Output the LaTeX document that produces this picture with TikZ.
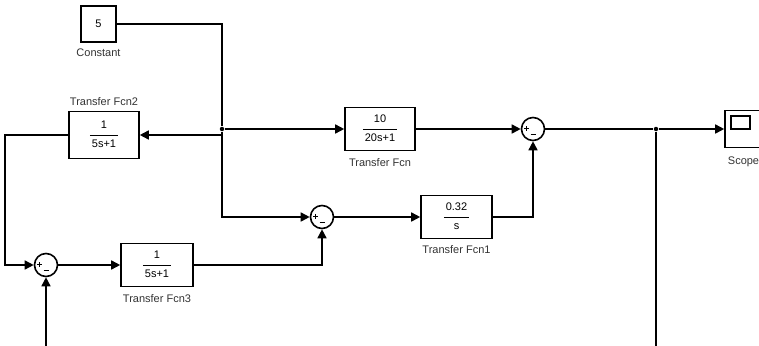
\documentclass[tikz,border=0pt]{standalone}
\usepackage{fontspec}
\setmainfont{Liberation Sans}
\usetikzlibrary{arrows.meta,positioning}
\setlength{\arrayrulewidth}{0.9pt}
\newcommand{\tfn}[2]{\begin{tabular}{@{\hspace{2pt}}c@{\hspace{2pt}}}#1\\[2.5pt]\hline\noalign{\vskip 2.5pt}#2\end{tabular}}

\begin{document}
\begin{tikzpicture}[x=1pt, y=-1pt, line width=1.6pt,
    >={Triangle[length=9pt,width=9pt]},
    blk/.style={draw, minimum width=71pt, minimum height=43pt, inner sep=0pt,
                font=\fontsize{11}{13}\selectfont},
    sumblk/.style={circle, draw, minimum size=23pt, inner sep=0pt,
      path picture={
        \draw[line width=1pt]
          ([shift={(-9pt,0.5pt)}]path picture bounding box.center) -- ++(5pt,0pt)
          ([shift={(-6.5pt,3pt)}]path picture bounding box.center) -- ++(0pt,-5pt)
          ([shift={(-2.5pt,-5pt)}]path picture bounding box.center) -- ++(5pt,0pt);}},
    lbl/.style={inner sep=0pt, text height=8pt, text depth=0pt,
                font=\fontsize{11}{13}\selectfont, text=black!80},
    jdot/.style={circle, fill, inner sep=0pt, minimum size=4.5pt}]

    \useasboundingbox (0,0) rectangle (759,345);
    \clip (0,0) rectangle (759,345);

    % ── Blocks ───────────────────────────────────────────────────────────────
    \node[blk, minimum width=35pt, minimum height=36pt] (const) at (98.5,24) {5};
    \node[lbl, below=5pt of const] (constlbl) {Constant};

    \node[blk, minimum width=70pt, minimum height=47pt] (tf2) at (104,135) {\tfn{1}{5s+1}};
    \node[lbl, above=4pt of tf2] (tf2lbl) {Transfer Fcn2};

    \node[blk, minimum width=70pt] (tf) at (380,129) {\tfn{10}{20s+1}};
    \node[lbl, below=6pt of tf] (tflbl) {Transfer Fcn};

    \node[blk] (tf1) at (456.5,217) {\tfn{0.32}{s}};
    \node[lbl, below=5pt of tf1] (tf1lbl) {Transfer Fcn1};

    \node[blk, minimum width=72pt] (tf3) at (157,265) {\tfn{1}{5s+1}};
    \node[lbl, below=6pt of tf3] (tf3lbl) {Transfer Fcn3};

    % ── Sum blocks ───────────────────────────────────────────────────────────
    \node[sumblk] (sum1) at (533,129) {};
    \node[sumblk] (sum2) at (322,217) {};
    \node[sumblk] (sum3) at (46,265) {};

    % ── Scope ────────────────────────────────────────────────────────────────
    \node[draw, minimum width=37pt, minimum height=37pt, inner sep=0pt] (scope) at (743.5,129) {};
    \draw (731,116) rectangle (750,129);
    \node[lbl, below=7pt of scope] (scopelbl) {Scope};

    % ── Branch points and free ends ──────────────────────────────────────────
    \node[jdot] (jn1) at (222,129) {};
    \node[jdot] (jn2) at (656,129) {};
    \coordinate (lc) at (5,135);
    \coordinate (in3) at (46,346);
    \coordinate (out2) at (656,346);

    % ── Signal lines ─────────────────────────────────────────────────────────
    \draw[->] (const.east) -| (jn1) -- (tf.west);
    \draw[->] (jn1) |- (tf2.east);
    \draw[->] (jn1) |- (sum2.west);
    \draw[->] (tf2.west) -- (lc) |- (sum3.west);
    \draw[->] (in3) -- (sum3.south);
    \draw[->] (sum3.east) -- (tf3.west);
    \draw[->] (tf3.east) -| (sum2.south);
    \draw[->] (sum2.east) -- (tf1.west);
    \draw[->] (tf1.east) -| (sum1.south);
    \draw[->] (tf.east) -- (sum1.west);
    \draw[->] (sum1.east) -- (jn2) -- (scope.west);
    \draw (jn2) -- (out2);

  \end{tikzpicture}
\end{document}
